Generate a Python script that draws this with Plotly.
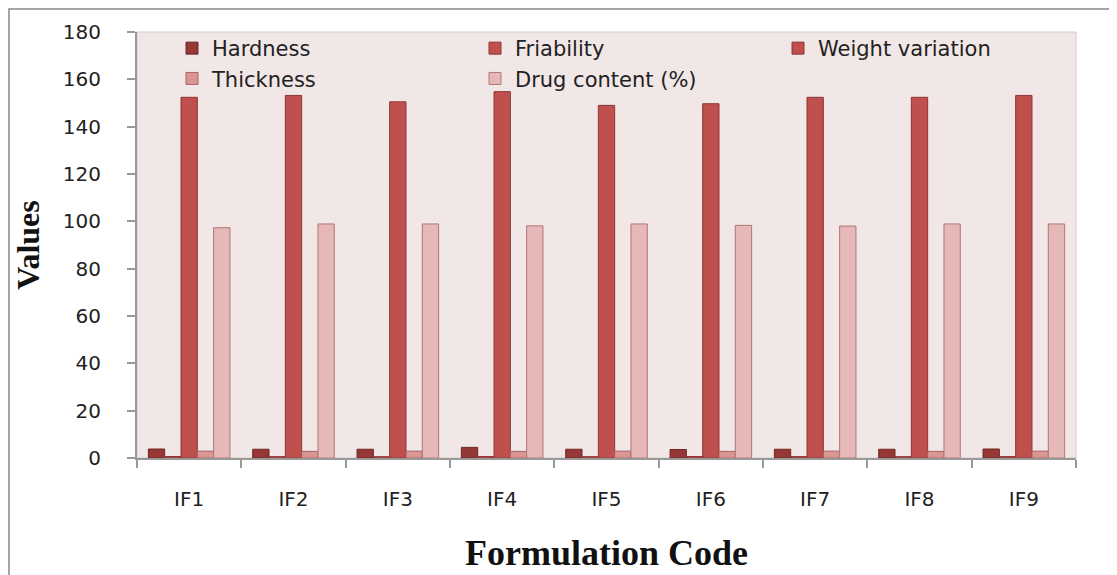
import plotly.graph_objects as go

categories = ["IF1", "IF2", "IF3", "IF4", "IF5", "IF6", "IF7", "IF8", "IF9"]
hardness = [3.8, 3.7, 3.7, 4.5, 3.7, 3.6, 3.7, 3.7, 3.8]
friability = [0.62, 0.58, 0.55, 0.61, 0.57, 0.63, 0.59, 0.56, 0.60]
weight_variation = [152.4, 153.2, 150.5, 154.8, 149.0, 149.7, 152.4, 152.4, 153.2]
thickness = [2.9, 2.8, 2.9, 2.8, 2.9, 2.8, 2.9, 2.8, 2.9]
drug_content = [97.3, 98.9, 98.9, 98.1, 98.9, 98.3, 98.0, 98.9, 98.9]
y_ticks = [0, 20, 40, 60, 80, 100, 120, 140, 160, 180]

series = [
    ("Hardness", hardness, "#953735", "#6e2725"),
    ("Friability", friability, "#C0504D", "#8c3634"),
    ("Weight variation", weight_variation, "#C0504D", "#8c3634"),
    ("Thickness", thickness, "#D99694", "#a8615f"),
    ("Drug content (%)", drug_content, "#E6B9B8", "#b07674"),
]

fig = go.Figure()
for name, vals, fill, edge in series:
    fig.add_trace(go.Bar(
        x=categories, y=vals, name=name,
        marker=dict(color=fill, line=dict(color=edge, width=1)),
    ))

# the page body adds an 8px offset; compensate so the plot lands where it should
OFF = 8
W, H = 1117 - OFF, 575 - OFF
L, R, T, B = 137 - OFF, 41, 32 - OFF, 117
pw, ph = W - L - R, H - T - B

fig.update_layout(
    width=W, height=H,
    margin=dict(l=L, r=R, t=T, b=B, pad=0, autoexpand=False),
    paper_bgcolor="white",
    plot_bgcolor="#F2E7E7",
    barmode="group",
    bargap=0.218,
    bargroupgap=0,
    font=dict(family="DejaVu Sans", color="#222222"),
    legend=dict(
        orientation="h",
        x=(172 - 137) / pw, xanchor="left",
        y=(458 - 28) / ph, yanchor="top",
        bgcolor="rgba(0,0,0,0)",
        font=dict(family="DejaVu Sans", size=21, color="#222222"),
        entrywidth=258, entrywidthmode="pixels",
        traceorder="normal",
        itemclick=False,
    ),
    xaxis=dict(
        type="category",
        automargin=False,
        tickson="boundaries",
        ticks="outside", ticklen=8, tickcolor="#999999", tickwidth=2,
        showline=True, linecolor="#999999", linewidth=2,
        showgrid=False,
        tickfont=dict(family="DejaVu Sans", size=20, color="#222222"),
        ticklabelstandoff=22,
        title=dict(text="<b>Formulation Code</b>",
                   font=dict(family="Liberation Serif", size=36, color="#111111"),
                   standoff=30),
    ),
    yaxis=dict(
        range=[0, 180],
        automargin=False,
        tickvals=y_ticks,
        ticks="outside", ticklen=8, tickcolor="#999999", tickwidth=2,
        showline=True, linecolor="#999999", linewidth=2,
        showgrid=False, zeroline=False,
        tickfont=dict(family="DejaVu Sans", size=20, color="#222222"),
        ticklabelstandoff=22,
        title=dict(text="<b>Values</b>",
                   font=dict(family="Liberation Serif", size=32, color="#111111"),
                   standoff=14),
    ),
)

# plot-area border (top and right)
fig.add_shape(type="rect", xref="paper", yref="paper", x0=0, y0=0, x1=1, y1=1,
              line=dict(color="#cccccc", width=1), layer="below")
# outer frame of the figure
fig.add_shape(type="rect", xref="paper", yref="paper",
              x0=(1 - L) / pw, x1=(1102 - L) / pw,
              y0=(H - B - 600) / ph, y1=(H - B - 1) / ph,
              line=dict(color="#888888", width=1.5), layer="below")

fig.write_html("out.html")
